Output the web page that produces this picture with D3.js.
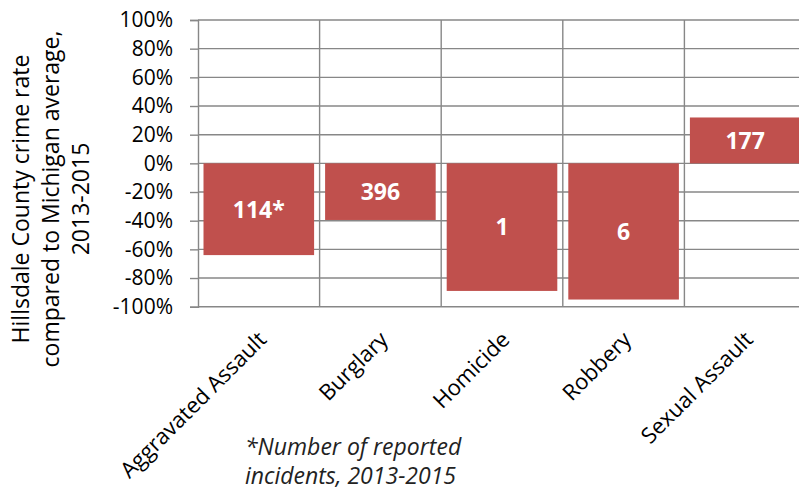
<!DOCTYPE html>
<html>
<head>
<meta charset="utf-8">
<script src="https://cdn.jsdelivr.net/npm/d3@7"></script>
<style>
  body { margin: 0; background: #fff; }
  svg { display: block; font-family: "Open Sans", sans-serif; }
</style>
</head>
<body>
<svg width="799" height="491"></svg>
<script>
// chart data
var categories = ["Aggravated Assault", "Burglary", "Homicide", "Robbery", "Sexual Assault"];
var values = [-0.64, -0.395, -0.89, -0.95, 0.32];
var barLabels = ["114*", "396", "1", "6", "177"];
var yTicks = [1, 0.8, 0.6, 0.4, 0.2, 0, -0.2, -0.4, -0.6, -0.8, -1];
var titleLines = ["Hillsdale County crime rate", "compared to Michigan average,", "2013-2015"];
var noteLines = ["*Number of reported", "incidents, 2013-2015"];

var svg = d3.select("svg");
var plotLeft = 198, plotTop = 20, plotBottom = 306.7, step = 121.6;

var x = d3.scaleBand()
    .domain(categories)
    .range([plotLeft, plotLeft + step * categories.length])
    .padding(0);

var y = d3.scaleLinear()
    .domain([-1, 1])
    .range([plotBottom, plotTop]);

var grid = "#878787";

// horizontal gridlines
svg.append("g").selectAll("line")
    .data(yTicks)
    .enter().append("line")
    .attr("x1", plotLeft).attr("x2", 799)
    .attr("y1", d => y(d)).attr("y2", d => y(d))
    .attr("stroke", grid).attr("stroke-width", 1.4);

// vertical gridlines at category boundaries
svg.append("g").selectAll("line")
    .data(categories.slice(1))
    .enter().append("line")
    .attr("x1", d => x(d)).attr("x2", d => x(d))
    .attr("y1", plotTop).attr("y2", plotBottom)
    .attr("stroke", grid).attr("stroke-width", 1.4);

// y axis
var yAxis = d3.axisLeft(y)
    .tickValues(yTicks)
    .tickSize(8)
    .tickPadding(17);

var ya = svg.append("g")
    .attr("transform", "translate(" + plotLeft + ",0)")
    .call(yAxis);
ya.select(".domain").attr("stroke", grid).attr("stroke-width", 1.4);
ya.selectAll(".tick line").attr("stroke", grid).attr("stroke-width", 1.4);
ya.selectAll(".tick text")
    .attr("font-size", 21)
    .attr("font-family", "Open Sans")
    .attr("fill", "#000")
    .text(d => Math.round(d * 100) + "%");

// bars
var inset = 5.5;
svg.append("g").selectAll("rect")
    .data(values)
    .enter().append("rect")
    .attr("x", (d, i) => x(categories[i]) + inset)
    .attr("width", x.bandwidth() - 2 * inset)
    .attr("y", d => y(Math.max(0, d)))
    .attr("height", d => Math.abs(y(d) - y(0)))
    .attr("fill", "#C0504D");

// bar labels
svg.append("g").selectAll("text")
    .data(values)
    .enter().append("text")
    .attr("x", (d, i) => x(categories[i]) + x.bandwidth() / 2)
    .attr("y", d => (y(d) + y(0)) / 2)
    .attr("dy", "0.36em")
    .attr("text-anchor", "middle")
    .attr("font-size", 23)
    .attr("font-weight", "bold")
    .attr("fill", "#fff")
    .text((d, i) => barLabels[i]);

// category labels
svg.append("g").selectAll("text")
    .data(categories)
    .enter().append("text")
    .attr("transform", d => "translate(" + (x(d) + x.bandwidth() / 2 + 9) + ",341) rotate(-45)")
    .attr("text-anchor", "end")
    .attr("font-size", 22)
    .attr("fill", "#000")
    .text(d => d);

// y axis title
svg.append("g").selectAll("text")
    .data(titleLines)
    .enter().append("text")
    .attr("transform", (d, i) => "translate(" + (29 + i * 30) + ",199) rotate(-90)")
    .attr("text-anchor", "middle")
    .attr("font-size", 23)
    .attr("fill", "#000")
    .text(d => d);

// footnote
svg.append("g").selectAll("text")
    .data(noteLines)
    .enter().append("text")
    .attr("x", 245)
    .attr("y", (d, i) => 455 + i * 29)
    .attr("font-size", 23)
    .attr("font-style", "italic")
    .attr("fill", "#222")
    .text(d => d);
</script>
</body>
</html>
